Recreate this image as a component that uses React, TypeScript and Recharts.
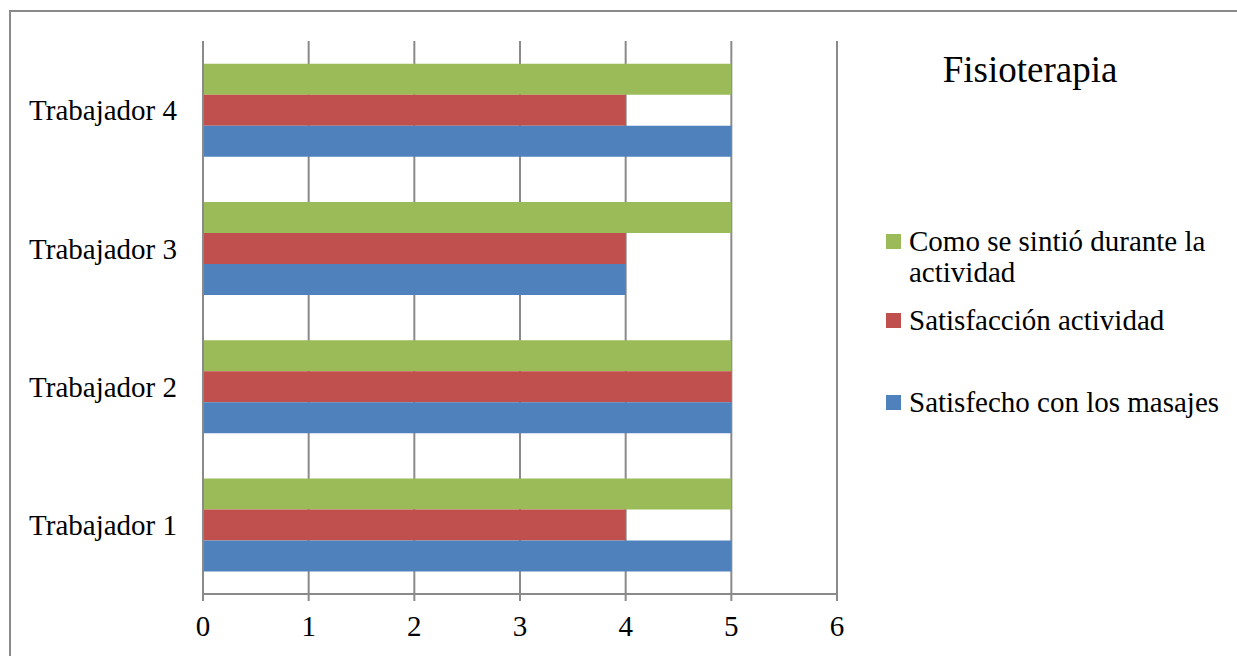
import { BarChart, Bar, XAxis, YAxis, CartesianGrid, Legend } from "recharts";

// categories listed top to bottom, as in the picture
const workers = ["Trabajador 4", "Trabajador 3", "Trabajador 2", "Trabajador 1"];
const sintio = [5, 5, 5, 5];
const satisfaccion = [4, 4, 5, 4];
const masajes = [5, 4, 5, 5];
const xTicks = [0, 1, 2, 3, 4, 5, 6];

const data = workers.map((name, i) => ({
  name,
  sintio: sintio[i],
  satisfaccion: satisfaccion[i],
  masajes: masajes[i],
}));

const FONT = '"Liberation Serif", "Times New Roman", serif';
const GRID = "#8a8a8a";
const legendGaps = [0, 17, 51];

const renderLegend = (props: any) => {
  const { payload } = props;
  return (
    <div style={{ fontFamily: FONT, fontSize: 29, lineHeight: "31px", color: "#000" }}>
      {payload.map((p: any, i: number) => (
        <div key={p.value} style={{ display: "flex", alignItems: "flex-start", marginTop: legendGaps[i] }}>
          <div style={{ width: 15, height: 15, background: p.color, marginTop: 8, marginRight: 8, flexShrink: 0 }} />
          <div>{p.value}</div>
        </div>
      ))}
    </div>
  );
};

const App = () => {
  return (
    <div
      style={{
        position: "absolute",
        left: 0,
        top: 0,
        width: 1237,
        height: 656,
        background: "#fff",
        overflow: "hidden",
        fontFamily: FONT,
      }}
    >
      <div
        style={{
          position: "absolute",
          left: 9,
          top: 10,
          width: 1400,
          height: 800,
          borderTop: `2px solid ${GRID}`,
          borderLeft: `2px solid ${GRID}`,
        }}
      />
      <BarChart
        width={1237}
        height={656}
        layout="vertical"
        data={data}
        margin={{ top: 41, right: 400, bottom: 12, left: 13 }}
        barCategoryGap="16.5%"
        barGap={0}
      >
        <CartesianGrid horizontal={false} stroke={GRID} strokeWidth={2} />
        <XAxis
          type="number"
          domain={[0, 6]}
          ticks={xTicks}
          interval={0}
          height={50}
          tickSize={7}
          tickMargin={14}
          axisLine={{ stroke: GRID, strokeWidth: 2 }}
          tickLine={{ stroke: GRID, strokeWidth: 2 }}
          tick={{ fill: "#000", fontSize: 29, fontFamily: FONT }}
        />
        <YAxis
          yAxisId="bounds"
          type="number"
          domain={[0, 4]}
          ticks={[0, 1, 2, 3, 4]}
          width={0}
          tick={false}
          tickSize={6}
          axisLine={false}
          tickLine={{ stroke: GRID, strokeWidth: 2 }}
        />
        <YAxis
          type="category"
          dataKey="name"
          width={190}
          tickSize={0}
          tickMargin={26}
          axisLine={{ stroke: GRID, strokeWidth: 2 }}
          tickLine={false}
          tick={{ fill: "#000", fontSize: 29, fontFamily: FONT }}
        />
        <Legend
          layout="vertical"
          align="center"
          verticalAlign="middle"
          content={renderLegend}
          wrapperStyle={{ left: 886, top: 226, width: 345 }}
        />
        <Bar dataKey="sintio" name="Como se sintió durante la actividad" fill="#9BBB59" isAnimationActive={false} />
        <Bar dataKey="satisfaccion" name="Satisfacción actividad" fill="#C0504D" isAnimationActive={false} />
        <Bar dataKey="masajes" name="Satisfecho con los masajes" fill="#4F81BD" isAnimationActive={false} />
      </BarChart>
      <div
        style={{
          position: "absolute",
          left: 930,
          top: 48,
          width: 200,
          textAlign: "center",
          fontSize: 37,
          lineHeight: "44px",
          color: "#000",
        }}
      >
        Fisioterapia
      </div>
    </div>
  );
};

export default App;
